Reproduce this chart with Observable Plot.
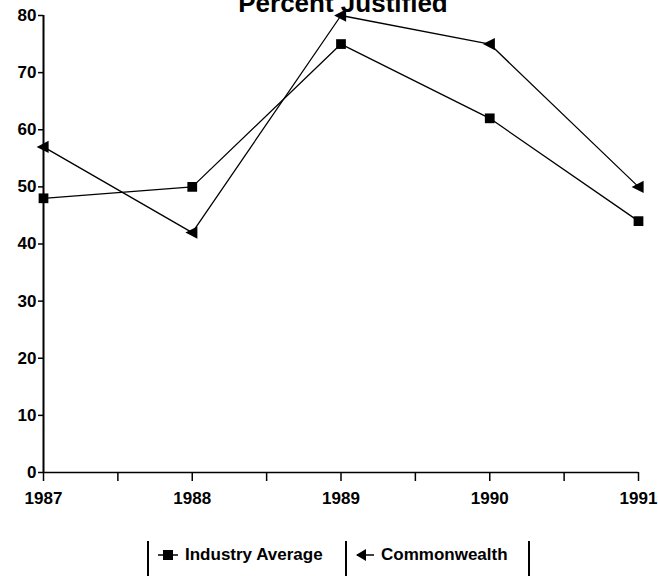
<!DOCTYPE html>
<html>
<head>
<meta charset="utf-8">
<script src="https://cdn.jsdelivr.net/npm/d3@7"></script>
<script src="https://cdn.jsdelivr.net/npm/@observablehq/plot@0.6"></script>
<style>
  html, body { margin: 0; padding: 0; background: #fff; overflow: hidden; }
  #wrap { position: relative; width: 658px; height: 576px; font-family: "Liberation Sans", Arial, sans-serif; }
  #title { position: absolute; left: 0; width: 686px; top: -10px; text-align: center; font-size: 26px; font-weight: bold; line-height: 26px; color: #000; }
  #legend { position: absolute; left: 147px; top: 541px; display: flex; height: 44px; }
  .cell { border-left: 2px solid #000; height: 44px; display: flex; align-items: flex-start; padding-top: 4px; box-sizing: border-box; font-size: 17px; font-weight: bold; color: #000; }
  .cell:last-child { border-right: 2px solid #000; }
  .cell svg { margin-right: 6px; margin-top: 3px; }
</style>
</head>
<body>
<div id="wrap">
  <div id="chart"></div>
  <div id="title">Percent Justified</div>
  <div id="legend"></div>
</div>
<script>
const years = [1987, 1988, 1989, 1990, 1991];
const industryAverage = [48, 50, 75, 62, 44];
const commonwealth = [57, 42, 80, 75, 50];
const seriesNames = ["Industry Average", "Commonwealth"];
const yTicks = [0, 10, 20, 30, 40, 50, 60, 70, 80];
const xTicks = [1987, 1987.5, 1988, 1988.5, 1989, 1989.5, 1990, 1990.5, 1991];

const ind = years.map((y, i) => ({year: y, value: industryAverage[i]}));
const com = years.map((y, i) => ({year: y, value: commonwealth[i]}));

const triLeft = {
  draw(context, size) {
    const r = Math.sqrt(size / Math.PI) * 1.25;
    context.moveTo(-r, 0);
    context.lineTo(r * 0.75, -r * 0.9);
    context.lineTo(r * 0.75, r * 0.9);
    context.closePath();
  }
};

const chart = Plot.plot({
  width: 658,
  height: 520,
  marginLeft: 43,
  marginRight: 20,
  marginTop: 15,
  marginBottom: 48,
  style: {fontFamily: "Liberation Sans, Arial, sans-serif", fontSize: "17px", fontWeight: "bold", color: "#000", background: "#fff"},
  x: {domain: [1987, 1991], type: "linear"},
  y: {domain: [0, 80]},
  marks: [
    Plot.axisY({ticks: yTicks, tickSize: 5, tickPadding: 2, label: null, tickFormat: d => String(d), stroke: "#000", strokeWidth: 1.5}),
    Plot.axisX({ticks: xTicks, tickSize: 9, tickPadding: 10, label: null, tickFormat: d => Number.isInteger(d) ? String(d) : "", stroke: "#000", strokeWidth: 1.5}),
    Plot.ruleX([1987], {stroke: "#000", strokeWidth: 2}),
    Plot.ruleY([0], {stroke: "#000", strokeWidth: 1.5}),
    Plot.line(ind, {x: "year", y: "value", stroke: "#000", strokeWidth: 1.3}),
    Plot.line(com, {x: "year", y: "value", stroke: "#000", strokeWidth: 1.3}),
    Plot.dot(ind, {x: "year", y: "value", symbol: "square", r: 5.5, fill: "#000", stroke: "none"}),
    Plot.dot(com, {x: "year", y: "value", symbol: triLeft, r: 5.5, fill: "#000", stroke: "none"})
  ]
});
document.getElementById("chart").appendChild(chart);

const legend = document.getElementById("legend");
const sq = `<svg width="22" height="14"><line x1="1" y1="7" x2="21" y2="7" stroke="#000" stroke-width="1.5"/><rect x="6" y="2" width="10" height="10" fill="#000"/></svg>`;
const tr = `<svg width="22" height="14"><line x1="4" y1="7" x2="21" y2="7" stroke="#000" stroke-width="1.5"/><path d="M3,7 L13,1 L13,13 Z" fill="#000"/></svg>`;
const widths = [198, 185];
seriesNames.forEach((name, i) => {
  const c = document.createElement("div");
  c.className = "cell";
  c.style.width = widths[i] + "px";
  c.style.paddingLeft = i === 0 ? "8px" : "6px";
  c.innerHTML = (i === 0 ? sq : tr) + `<span>${name}</span>`;
  legend.appendChild(c);
});
</script>
</body>
</html>
